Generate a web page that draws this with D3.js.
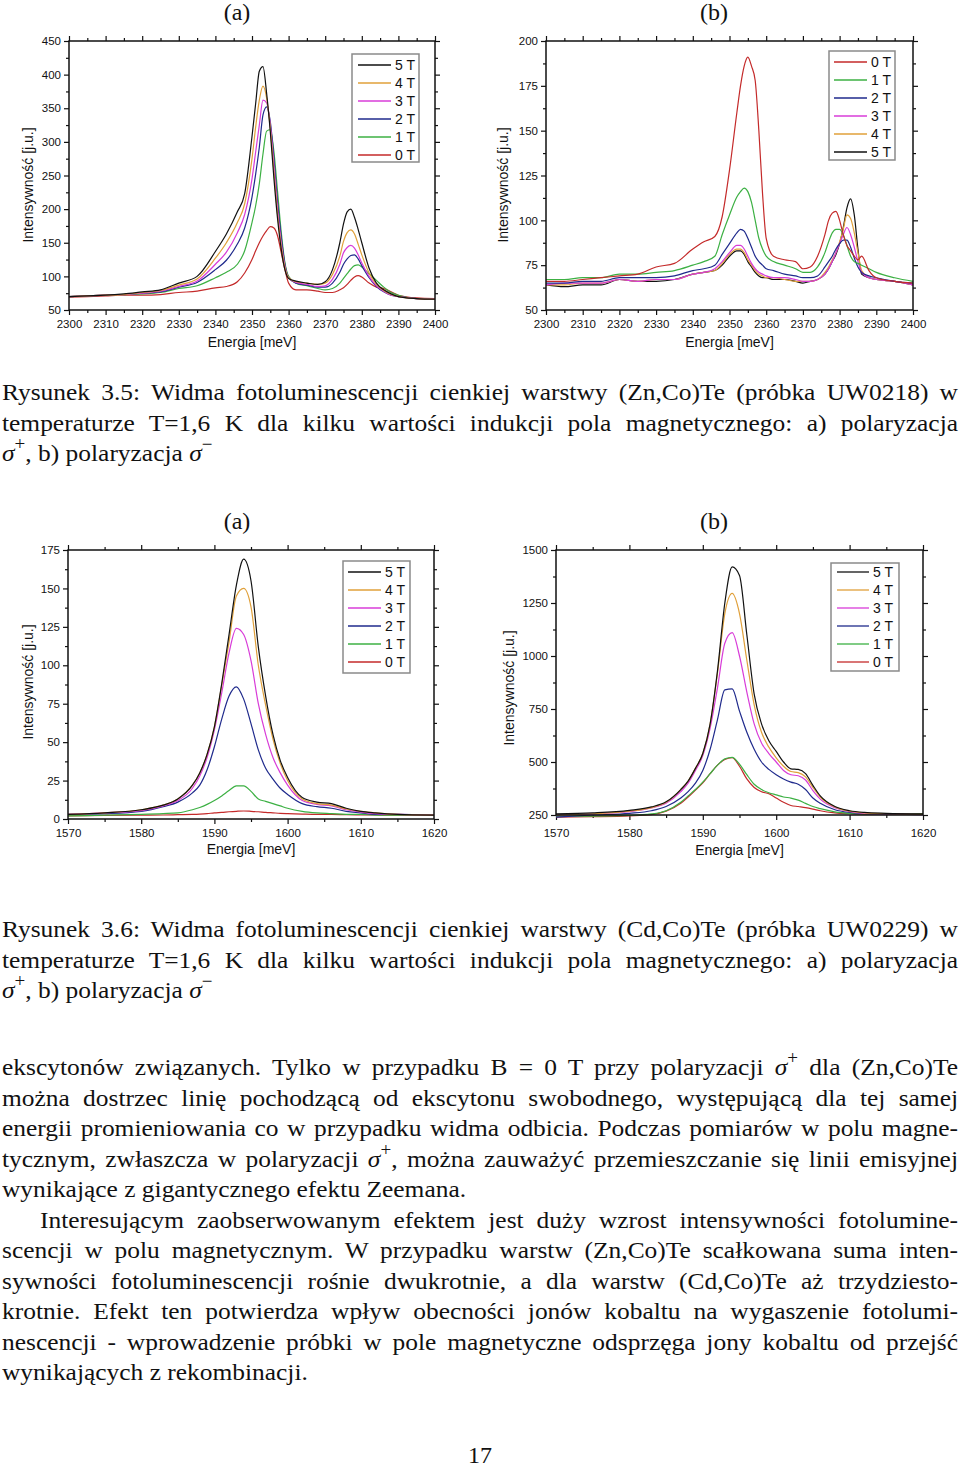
<!DOCTYPE html>
<html>
<head>
<meta charset="utf-8">
<script src="https://cdn.jsdelivr.net/npm/d3@7"></script>
<style>
  body { margin: 0; background: #fff; }
  #page { position: relative; width: 960px; height: 1468px; overflow: hidden; }
  #page svg { position: absolute; left: 0; top: 0; }
  .ln { position: absolute; height: 30px; line-height: 30px; transform-origin: 0 0;
        font-family: "Liberation Serif", "Times New Roman", serif; font-size: 24px; color: #111;
        text-align: justify; text-align-last: justify; white-space: nowrap; }
  .ln.last { text-align-last: left; }
  .ln sup { font-size: 0.75em; position: relative; top: -0.1em; line-height: 0; }
</style>
</head>
<body>
<div id="page"></div>
<script>
// ---- data: (Zn,Co)Te sigma+ ----
const znPlusE = [2300,2305,2310,2315,2320,2325,2330,2335,2340,2343,2346,2348,2350,2351,2352,2353,2354,2355,2356,2357,2358,2359,2360,2362,2365,2368,2370,2372,2374,2375,2376,2377,2378,2379,2380,2382,2384,2386,2388,2390,2395,2400];
const znPlus5T = [70,71,72,74,77,80,90,100,137,163,196,223,308,357,405,412,372,315,245,185,140,110,97,93,90,88,92,110,150,178,196,200,188,170,150,112,90,80,74,70,67,66];
const znPlus4T = [70,71,72,73,76,79,87,96,127,150,180,208,275,322,362,383,365,320,255,192,145,113,98,92,90,88,90,103,130,152,165,169,163,148,132,105,88,79,73,70,67,66];
const znPlus3T = [70,71,72,73,75,78,85,93,118,136,165,192,245,285,325,362,358,325,265,200,150,115,98,91,88,85,86,96,118,135,143,146,142,132,120,100,86,78,72,70,67,66];
const znPlus2T = [70,71,72,73,75,77,84,91,110,124,148,172,218,252,292,340,352,330,275,210,158,118,98,90,87,84,84,90,106,118,126,131,132,126,116,98,85,77,72,70,67,66];
const znPlus1T = [70,71,72,73,74,76,82,86,98,106,118,138,180,205,238,282,316,318,285,225,165,120,100,90,86,82,80,82,90,97,104,111,116,117,114,104,94,84,76,72,67,66];
const znPlus0T = [69,70,71,72,72,73,76,78,83,85,92,105,125,138,150,160,168,174,172,160,135,110,90,80,80,78,76,76,80,83,88,94,99,101,99,90,84,82,77,72,68,67];

// ---- data: (Zn,Co)Te sigma- ----
const znMinusE = [2300,2305,2310,2315,2320,2325,2330,2335,2340,2343,2346,2348,2350,2352,2353,2354,2355,2356,2357,2358,2359,2360,2362,2365,2368,2370,2372,2374,2376,2377,2378,2379,2380,2381,2382,2383,2384,2385,2386,2388,2390,2395,2400];
const znMinus0T = [66,66,67,68,69,70,74,76,84,88,91,102,128,160,175,186,191,186,178,150,115,90,80,78,77,73,74,80,92,100,104,105,100,92,86,83,80,78,80,72,68,66,65];
const znMinus1T = [67,67,68,68,70,70,71,72,75,77,80,92,103,113,116,118,116,110,100,90,84,80,77,75,73,71,71,74,82,88,93,95,95,92,86,80,77,76,75,73,71,68,66];
const znMinus2T = [65,65,66,66,68,68,68,69,72,73,75,81,87,93,95,94,90,85,80,77,75,73,72,70,69,68,68,69,74,77,80,84,87,89,89,85,79,74,71,69,68,66,65];
const znMinus3T = [64,65,65,65,67,66,67,67,70,71,73,77,82,86,86,84,80,76,73,71,70,69,68,68,67,66,66,67,70,73,77,82,87,92,96,92,85,77,71,68,67,66,64];
const znMinus4T = [64,64,65,65,67,66,67,67,70,71,72,76,81,84,84,82,78,75,72,70,69,68,68,67,66,66,66,67,71,74,78,82,88,95,103,101,93,82,72,68,67,66,64];
const znMinus5T = [64,63,64,64,67,66,66,67,70,71,72,75,80,83,83,81,77,74,71,69,68,68,67,67,66,65,66,67,70,73,77,81,87,96,107,112,103,84,70,68,67,66,64];

// ---- data: (Cd,Co)Te sigma+ ----
const cdPlusE = [1570,1575,1580,1583,1585,1587,1588,1589,1590,1591,1592,1593,1594,1595,1596,1597,1598,1599,1600,1602,1604,1606,1608,1610,1612,1615,1620];
const cdPlus5T = [3,4,6,9,13,22,30,42,60,88,120,152,169,155,112,80,55,38,27,14,11,10,7,5,4,3,2.5];
const cdPlus4T = [3,4,6,9,13,22,30,42,60,87,115,145,150,138,100,74,52,36,25,13,10,9,6.5,5,4,3,2.5];
const cdPlus3T = [3,4,5.5,8.5,12,20,28,40,58,82,108,124,120,103,75,55,40,30,22,12,9.5,8.5,6,4.5,3.5,3,2.5];
const cdPlus2T = [3,3.5,5,8,11,17,22,32,47,65,80,86,78,62,45,33,26,20,16,10,8,7,5,4,3,3,2.5];
const cdPlus1T = [2,2.5,3,3.5,4,6,7.5,9.5,12,15,18.5,21.5,21.5,18,13,11.5,10,8.5,7,5,4,3.5,3,3,2.5,2.5,2.5];
const cdPlus0T = [2,2.3,2.5,2.6,2.8,3,3.2,3.5,4,4.3,4.7,5,5.2,5,4.7,4.3,4,3.7,3.5,3.2,3,3,2.8,2.7,2.6,2.5,2.5];

// ---- data: (Cd,Co)Te sigma- ----
const cdMinusE = [1570,1575,1580,1583,1585,1587,1588,1589,1590,1591,1592,1593,1594,1595,1596,1597,1598,1599,1600,1601,1602,1603,1604,1605,1606,1608,1610,1612,1615,1620];
const cdMinus5T = [255,260,272,288,312,370,410,470,540,680,930,1250,1420,1380,1100,820,680,600,550,500,468,465,445,390,340,290,270,262,258,255];
const cdMinus4T = [250,256,268,285,310,370,410,470,540,680,920,1200,1295,1200,980,770,640,570,520,480,455,450,430,380,335,288,268,260,256,253];
const cdMinus3T = [250,255,266,283,305,360,400,460,530,660,850,1060,1110,1000,830,680,590,540,500,460,440,435,415,365,325,285,266,258,255,252];
const cdMinus2T = [240,250,258,270,290,330,360,400,460,560,700,840,845,740,640,560,500,465,440,420,405,395,370,330,305,275,262,256,254,252];
const cdMinus1T = [245,245,248,255,270,310,340,370,405,445,485,515,522,490,440,395,370,355,345,335,330,320,305,290,280,265,258,255,255,255];
const cdMinus0T = [240,242,246,252,268,305,335,368,402,445,485,512,520,480,420,380,360,350,330,310,295,290,285,278,270,260,256,254,254,253];

const fieldColor = {'5 T': '#111111', '4 T': '#e0a03a', '3 T': '#d83cd8', '2 T': '#1f2a8c', '1 T': '#3cb043', '0 T': '#c42a2a'};

const caption1 = [
  'Rysunek 3.5: Widma fotoluminescencji cienkiej warstwy (Zn,Co)Te (próbka UW0218) w',
  'temperaturze T=1,6 K dla kilku wartości indukcji pola magnetycznego: a) polaryzacja',
  '<i>σ</i><sup>+</sup>, b) polaryzacja <i>σ</i><sup>−</sup>'
];
const caption2 = [
  'Rysunek 3.6: Widma fotoluminescencji cienkiej warstwy (Cd,Co)Te (próbka UW0229) w',
  'temperaturze T=1,6 K dla kilku wartości indukcji pola magnetycznego: a) polaryzacja',
  '<i>σ</i><sup>+</sup>, b) polaryzacja <i>σ</i><sup>−</sup>'
];
const bodyLines = [
  'ekscytonów związanych. Tylko w przypadku B = 0 T przy polaryzacji <i>σ</i><sup>+</sup> dla (Zn,Co)Te',
  'można dostrzec linię pochodzącą od ekscytonu swobodnego, występującą dla tej samej',
  'energii promieniowania co w przypadku widma odbicia. Podczas pomiarów w polu magne-',
  'tycznym, zwłaszcza w polaryzacji <i>σ</i><sup>+</sup>, można zauważyć przemieszczanie się linii emisyjnej',
  'wynikające z gigantycznego efektu Zeemana.',
  'Interesującym zaobserwowanym efektem jest duży wzrost intensywności fotolumine-',
  'scencji w polu magnetycznym. W przypadku warstw (Zn,Co)Te scałkowana suma inten-',
  'sywności fotoluminescencji rośnie dwukrotnie, a dla warstw (Cd,Co)Te aż trzydziesto-',
  'krotnie. Efekt ten potwierdza wpływ obecności jonów kobaltu na wygaszenie fotolumi-',
  'nescencji - wprowadzenie próbki w pole magnetyczne odsprzęga jony kobaltu od przejść',
  'wynikających z rekombinacji.'
];

const page = d3.select('#page');
const svg = page.append('svg').attr('width', 960).attr('height', 1468);
const sans = '"Liberation Sans", Arial, sans-serif';

function drawChart(c) {
  const x = d3.scaleLinear().domain(c.xDomain).range([c.left, c.right]);
  const y = d3.scaleLinear().domain(c.yDomain).range([c.bottom, c.top]);
  const g = svg.append('g');

  const xMajor = d3.range(c.xDomain[0], c.xDomain[1] + 0.1, c.xStep);
  const xMinor = d3.range(c.xDomain[0] + c.xStep / 2, c.xDomain[1], c.xStep);
  const yMajor = d3.range(c.yDomain[0], c.yDomain[1] + 0.1, c.yStep);
  const yMinor = d3.range(c.yDomain[0] + c.yStep / 2, c.yDomain[1], c.yStep);

  function addAxis(axis, tr, labels) {
    const a = g.append('g').attr('transform', tr).call(axis);
    a.select('.domain').remove();
    a.selectAll('line').attr('stroke', '#111').attr('stroke-width', 1.2);
    a.selectAll('text').attr('font-family', sans).attr('font-size', 11.5).attr('fill', '#111');
    if (!labels) a.selectAll('text').remove();
  }
  const fmt = d3.format('d');
  addAxis(d3.axisBottom(x).tickValues(xMajor).tickSize(5).tickPadding(c.xPad).tickFormat(fmt), `translate(0,${c.bottom})`, true);
  addAxis(d3.axisBottom(x).tickValues(xMinor).tickSize(3).tickFormat(''), `translate(0,${c.bottom})`, false);
  addAxis(d3.axisTop(x).tickValues(xMajor).tickSize(5).tickFormat(''), `translate(0,${c.top})`, false);
  addAxis(d3.axisTop(x).tickValues(xMinor).tickSize(3).tickFormat(''), `translate(0,${c.top})`, false);
  addAxis(d3.axisLeft(y).tickValues(yMajor).tickSize(5).tickPadding(3).tickFormat(fmt), `translate(${c.left},0)`, true);
  addAxis(d3.axisLeft(y).tickValues(yMinor).tickSize(3).tickFormat(''), `translate(${c.left},0)`, false);
  addAxis(d3.axisRight(y).tickValues(yMajor).tickSize(5).tickFormat(''), `translate(${c.right},0)`, false);
  addAxis(d3.axisRight(y).tickValues(yMinor).tickSize(3).tickFormat(''), `translate(${c.right},0)`, false);

  const line = d3.line().x((d, i) => x(c.energies[i])).y(d => y(d)).curve(d3.curveMonotoneX);
  // draw so that the first listed series ends on top
  c.series.slice().reverse().forEach(s => {
    g.append('path').attr('d', line(s.values)).attr('fill', 'none')
      .attr('stroke', fieldColor[s.label]).attr('stroke-width', 1.2).attr('stroke-linejoin', 'round');
  });

  g.append('rect').attr('x', c.left).attr('y', c.top)
    .attr('width', c.right - c.left).attr('height', c.bottom - c.top)
    .attr('fill', 'none').attr('stroke', '#111').attr('stroke-width', 1.5);

  // legend
  const L = c.legend;
  g.append('rect').attr('x', L.x0).attr('y', L.y0).attr('width', L.x1 - L.x0).attr('height', L.y1 - L.y0)
    .attr('fill', '#fff').attr('stroke', '#8a8a8a').attr('stroke-width', 1.5);
  c.series.forEach((s, i) => {
    const ry = L.row0 + i * 18;
    g.append('line').attr('x1', L.lx0).attr('x2', L.lx1).attr('y1', ry).attr('y2', ry)
      .attr('stroke', fieldColor[s.label]).attr('stroke-width', 1.3);
    g.append('text').attr('x', L.tx).attr('y', ry).attr('dy', '0.36em')
      .attr('font-family', sans).attr('font-size', 14).attr('fill', '#111').text(s.label);
  });

  g.append('text').attr('x', (c.left + c.right) / 2).attr('y', c.xlabelY).attr('dy', '0.36em')
    .attr('text-anchor', 'middle').attr('font-family', sans).attr('font-size', 14).attr('fill', '#111')
    .text('Energia [meV]');
  g.append('text').attr('transform', `translate(${c.ylabelX},${c.ylabelY}) rotate(-90)`).attr('dy', '0.36em')
    .attr('text-anchor', 'middle').attr('font-family', sans).attr('font-size', 14).attr('fill', '#111')
    .text('Intensywność [j.u.]');
}

function seriesOf(labels, arrays) {
  return labels.map((l, i) => ({label: l, values: arrays[i]}));
}

drawChart({
  left: 69, right: 435, top: 41, bottom: 310, xDomain: [2300, 2400], yDomain: [50, 450], xStep: 10, yStep: 50, xPad: 5,
  energies: znPlusE,
  series: seriesOf(['5 T', '4 T', '3 T', '2 T', '1 T', '0 T'], [znPlus5T, znPlus4T, znPlus3T, znPlus2T, znPlus1T, znPlus0T]),
  legend: {x0: 352, x1: 419, y0: 54, y1: 162, lx0: 358, lx1: 391, tx: 395, row0: 65},
  xlabelY: 342, ylabelX: 28, ylabelY: 185
});
drawChart({
  left: 546, right: 913, top: 41, bottom: 310, xDomain: [2300, 2400], yDomain: [50, 200], xStep: 10, yStep: 25, xPad: 5,
  energies: znMinusE,
  series: seriesOf(['0 T', '1 T', '2 T', '3 T', '4 T', '5 T'], [znMinus0T, znMinus1T, znMinus2T, znMinus3T, znMinus4T, znMinus5T]),
  legend: {x0: 829, x1: 895, y0: 51, y1: 160, lx0: 834, lx1: 867, tx: 871, row0: 62},
  xlabelY: 342, ylabelX: 503, ylabelY: 185
});
drawChart({
  left: 68, right: 434, top: 550, bottom: 819, xDomain: [1570, 1620], yDomain: [0, 175], xStep: 10, yStep: 25, xPad: 5,
  energies: cdPlusE,
  series: seriesOf(['5 T', '4 T', '3 T', '2 T', '1 T', '0 T'], [cdPlus5T, cdPlus4T, cdPlus3T, cdPlus2T, cdPlus1T, cdPlus0T]),
  legend: {x0: 343, x1: 410, y0: 561, y1: 673, lx0: 348, lx1: 381, tx: 385, row0: 572},
  xlabelY: 849, ylabelX: 28, ylabelY: 682
});
drawChart({
  left: 556, right: 923, top: 550, bottom: 815, xDomain: [1570, 1620], yDomain: [250, 1500], xStep: 10, yStep: 250, xPad: 9,
  energies: cdMinusE,
  series: seriesOf(['5 T', '4 T', '3 T', '2 T', '1 T', '0 T'], [cdMinus5T, cdMinus4T, cdMinus3T, cdMinus2T, cdMinus1T, cdMinus0T]),
  legend: {x0: 831, x1: 899, y0: 563, y1: 671, lx0: 837, lx1: 869, tx: 873, row0: 572},
  xlabelY: 850, ylabelX: 509, ylabelY: 688
});

// subfigure labels
[[237, 12, '(a)'], [714, 12, '(b)'], [237, 521, '(a)'], [714, 521, '(b)']].forEach(([lx, ly, t]) => {
  svg.append('text').attr('x', lx).attr('y', ly).attr('dy', '0.35em').attr('text-anchor', 'middle')
    .attr('font-family', '"Liberation Serif", serif').attr('font-size', 24).attr('fill', '#111').text(t);
});
svg.append('text').attr('x', 480).attr('y', 1455).attr('dy', '0.35em').attr('text-anchor', 'middle')
  .attr('font-family', '"Liberation Serif", serif').attr('font-size', 24).attr('fill', '#111').text('17');

const sx = 1.06;
function textBlock(lines, cy0, lastIdx, indentIdx) {
  lines.forEach((t, i) => {
    const left = i === indentIdx ? 40 : 2;
    d3.select('#page').append('div').attr('class', 'ln' + (lastIdx.includes(i) ? ' last' : ''))
      .style('top', (cy0 + i * 30.5 - 15) + 'px')
      .style('left', left + 'px')
      .style('width', ((958 - left) / sx) + 'px')
      .style('transform', `scaleX(${sx})`)
      .html(t);
  });
}
textBlock(caption1, 392, [2], -1);
textBlock(caption2, 929, [2], -1);
textBlock(bodyLines, 1067, [4, 10], 5);
</script>
</body>
</html>
